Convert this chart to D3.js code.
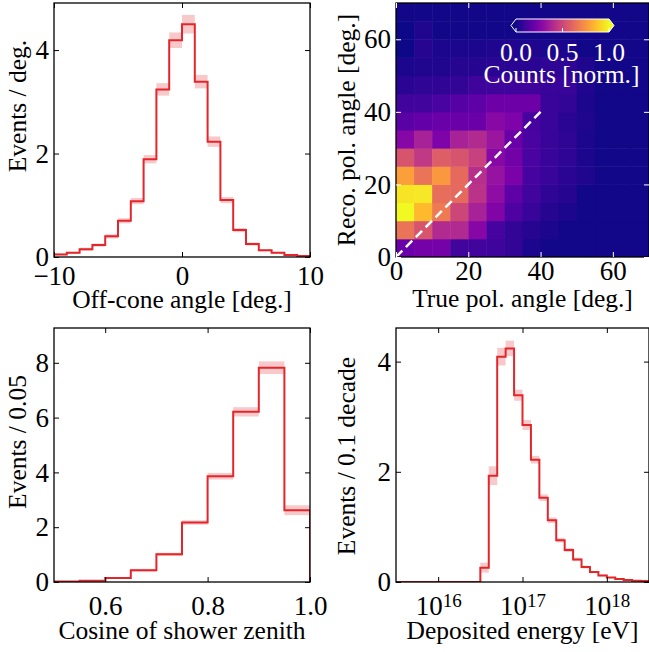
<!DOCTYPE html>
<html>
<head>
<meta charset="utf-8">
<script src="https://cdn.jsdelivr.net/npm/d3@7"></script>
<style>
body { margin: 0; background: #fff; }
text { font-family: "Liberation Serif", "Times New Roman", serif; }
</style>
</head>
<body>
<div id="chart"></div>
<script>
// ---- data ----
var offconeEdges = [-10, -9, -8, -7, -6, -5, -4, -3, -2, -1, 0, 1, 2, 3, 4, 5, 6, 7, 8, 9, 10];
var offconeValues = [0.05, 0.08, 0.15, 0.23, 0.40, 0.70, 1.08, 1.89, 3.24, 4.19, 4.50, 3.39, 2.23, 1.10, 0.52, 0.25, 0.13, 0.08, 0.04, 0.02];
var offconeErrors = [0.02, 0.02, 0.03, 0.03, 0.04, 0.05, 0.06, 0.08, 0.12, 0.15, 0.18, 0.13, 0.10, 0.06, 0.04, 0.03, 0.02, 0.02, 0.02, 0.01];
var offconeTicks = [-10, 0, 10];

var zenithEdges = [0.50, 0.55, 0.60, 0.65, 0.70, 0.75, 0.80, 0.85, 0.90, 0.95, 1.00];
var zenithValues = [0.02, 0.05, 0.15, 0.43, 1.01, 2.17, 3.86, 6.21, 7.82, 2.62];
var zenithErrors = [0.01, 0.02, 0.03, 0.05, 0.06, 0.08, 0.12, 0.17, 0.23, 0.18];
var zenithTicks = [0.6, 0.8, 1.0];

// log10 of bin edges in eV
var energyLogEdges = [15.5, 15.6, 15.7, 15.8, 15.9, 16.0, 16.1, 16.2, 16.3, 16.4, 16.5, 16.6, 16.7, 16.8, 16.9,
                      17.0, 17.1, 17.2, 17.3, 17.4, 17.5, 17.6, 17.7, 17.8, 17.9, 18.0, 18.1, 18.2, 18.3, 18.4, 18.5];
var energyValues = [0, 0, 0, 0, 0, 0, 0, 0, 0, 0,
                    0.26, 1.93, 4.09, 4.24, 3.39, 2.85, 2.22, 1.53, 1.12, 0.76,
                    0.58, 0.41, 0.27, 0.18, 0.12, 0.08, 0.055, 0.036, 0.024, 0.018];
var energyErrors = [0, 0, 0, 0, 0, 0, 0, 0, 0, 0,
                    0.09, 0.17, 0.16, 0.14, 0.10, 0.09, 0.07, 0.06, 0.05, 0.04,
                    0.035, 0.03, 0.025, 0.02, 0.015, 0.012, 0.01, 0.008, 0.006, 0.005];
var energyTicks = [16, 17, 18];

// polarisation angle 2D histogram, rows = reco bins (bottom to top), cols = true bins
var polEdges = [0, 5, 10, 15, 20, 25, 30, 35, 40, 45, 50, 55, 60, 65, 70];
var polCounts = [
    [0.20, 0.23, 0.23, 0.10, 0.10, 0.09, 0.07, 0.02, 0.01, 0.01, 0.01, 0.01, 0.01, 0.01],
    [0.65, 0.55, 0.40, 0.40, 0.27, 0.11, 0.07, 0.04, 0.02, 0.01, 0.01, 0.01, 0.01, 0.01],
    [1.00, 0.85, 0.67, 0.50, 0.37, 0.26, 0.13, 0.08, 0.04, 0.02, 0.01, 0.01, 0.01, 0.01],
    [0.95, 0.96, 0.63, 0.62, 0.43, 0.30, 0.17, 0.10, 0.06, 0.04, 0.01, 0.01, 0.01, 0.01],
    [0.78, 0.65, 0.76, 0.62, 0.42, 0.32, 0.24, 0.11, 0.08, 0.05, 0.03, 0.01, 0.01, 0.01],
    [0.55, 0.45, 0.58, 0.55, 0.48, 0.28, 0.22, 0.12, 0.08, 0.06, 0.02, 0.01, 0.01, 0.01],
    [0.27, 0.37, 0.25, 0.37, 0.40, 0.33, 0.20, 0.12, 0.08, 0.06, 0.02, 0.01, 0.01, 0.01],
    [0.16, 0.18, 0.20, 0.20, 0.20, 0.28, 0.25, 0.11, 0.08, 0.05, 0.03, 0.01, 0.01, 0.01],
    [0.10, 0.10, 0.12, 0.15, 0.17, 0.21, 0.21, 0.21, 0.08, 0.07, 0.02, 0.01, 0.01, 0.01],
    [0.05, 0.06, 0.06, 0.07, 0.09, 0.09, 0.09, 0.09, 0.08, 0.08, 0.03, 0.01, 0.01, 0.01],
    [0.02, 0.03, 0.03, 0.04, 0.04, 0.05, 0.05, 0.05, 0.06, 0.06, 0.03, 0.01, 0.01, 0.01],
    [0.00, 0.04, 0.02, 0.02, 0.02, 0.03, 0.03, 0.03, 0.02, 0.02, 0.01, 0.01, 0.01, 0.01],
    [0.00, 0.03, 0.01, 0.01, 0.01, 0.01, 0.01, 0.01, 0.01, 0.01, 0.01, 0.01, 0.01, 0.01],
    [0.01, 0.01, 0.01, 0.01, 0.01, 0.01, 0.01, 0.01, 0.01, 0.01, 0.01, 0.01, 0.01, 0.01]
];
var polTicks = [0, 20, 40, 60];
var colorbarTicks = [0.0, 0.5, 1.0];

// ---- styling ----
var RED = "#e3262c";
var BAND = "rgba(227, 38, 44, 0.25)";
var TICK_FONT = 27;
var LABEL_FONT = 25.5;

var svg = d3.select("#chart")
    .append("svg")
    .attr("width", 649)
    .attr("height", 652);

svg.append("rect").attr("width", 649).attr("height", 652).attr("fill", "#fff");

var defs = svg.append("defs");

function clipFor(id, x0, y0, w, h) {
    defs.append("clipPath").attr("id", id)
        .append("rect").attr("x", x0).attr("y", y0).attr("width", w).attr("height", h);
    return "url(#" + id + ")";
}

function styleAxis(sel, color) {
    sel.select(".domain").remove();
    sel.selectAll(".tick line").attr("stroke", color).attr("stroke-width", 1);
    sel.selectAll(".tick text")
        .attr("fill", "#000")
        .style("font-size", TICK_FONT + "px")
        .style("font-family", '"Liberation Serif", serif');
}

function minusFmt(d) {
    return d < 0 ? "\u2212" + Math.abs(d) : String(d);
}

// draw ticks on all four sides, labels on bottom and left
function drawAxes(g, box, x, y, opt) {
    var col = opt.tickColor || "#000";
    var bx = d3.axisBottom(x).tickValues(opt.xTicks).tickSize(-5).tickPadding(opt.xPad).tickFormat(opt.xFmt);
    var ax = g.append("g").attr("transform", "translate(0," + (box.y + box.h) + ")").call(bx);
    styleAxis(ax, col);
    var tx = d3.axisTop(x).tickValues(opt.xTicks).tickSize(-5).tickFormat("");
    styleAxis(g.append("g").attr("transform", "translate(0," + box.y + ")").call(tx), col);

    var ly = d3.axisLeft(y).tickValues(opt.yTicks).tickSize(-5).tickPadding(5).tickFormat(opt.yFmt);
    styleAxis(g.append("g").attr("transform", "translate(" + box.x + ",0)").call(ly), col);
    var ry = d3.axisRight(y).tickValues(opt.yTicks).tickSize(-5).tickFormat("");
    styleAxis(g.append("g").attr("transform", "translate(" + (box.x + box.w) + ",0)").call(ry), col);
    return ax;
}

function axisLabels(g, box, xLabel, yLabel, xBase, yCenter, yBase) {
    g.append("text")
        .attr("x", box.x + box.w / 2)
        .attr("y", xBase)
        .attr("text-anchor", "middle")
        .style("font-size", LABEL_FONT + "px")
        .text(xLabel);
    g.append("text")
        .attr("transform", "translate(" + yBase + "," + yCenter + ") rotate(-90)")
        .attr("text-anchor", "middle")
        .style("font-size", LABEL_FONT + "px")
        .text(yLabel);
}

function histPanel(id, box, edges, values, errors, x, y) {
    var g = svg.append("g");
    var clip = clipFor(id, box.x, box.y, box.w, box.h);
    var bins = values.map(function(v, i) {
        return { x0: edges[i], x1: edges[i + 1], v: v, e: errors[i] };
    });

    g.append("g").attr("clip-path", clip)
        .selectAll("rect")
        .data(bins.filter(function(b) { return b.e > 0; }))
        .enter().append("rect")
        .attr("x", function(b) { return x(b.x0); })
        .attr("width", function(b) { return x(b.x1) - x(b.x0); })
        .attr("y", function(b) { return y(b.v + b.e); })
        .attr("height", function(b) { return y(Math.max(b.v - b.e, 0)) - y(b.v + b.e); })
        .attr("fill", BAND);

    var pts = [[edges[0], 0]];
    bins.forEach(function(b) {
        pts.push([b.x0, b.v]);
        pts.push([b.x1, b.v]);
    });
    pts.push([edges[edges.length - 1], 0]);

    var line = d3.line()
        .x(function(d) { return x(d[0]); })
        .y(function(d) { return y(d[1]); });

    g.append("path")
        .attr("clip-path", clip)
        .attr("d", line(pts))
        .attr("fill", "none")
        .attr("stroke", RED)
        .attr("stroke-width", 2)
        .attr("stroke-linejoin", "miter");

    g.append("rect")
        .attr("x", box.x).attr("y", box.y).attr("width", box.w).attr("height", box.h)
        .attr("fill", "none").attr("stroke", "#000").attr("stroke-width", 1.3);
    return g;
}

// ---- top left: off-cone angle ----
var boxTL = { x: 54, y: 3, w: 256, h: 254 };
var xTL = d3.scaleLinear().domain([-10, 10]).range([boxTL.x, boxTL.x + boxTL.w]);
var yTL = d3.scaleLinear().domain([0, 4.91]).range([boxTL.y + boxTL.h, boxTL.y]);
var gTL = histPanel("clipTL", boxTL, offconeEdges, offconeValues, offconeErrors, xTL, yTL);
drawAxes(gTL, boxTL, xTL, yTL, { xTicks: offconeTicks, yTicks: [0, 2, 4], xPad: 9, xFmt: minusFmt, yFmt: String });
axisLabels(gTL, boxTL, "Off-cone angle [deg.]", "Events / deg.", 308, 106, 26);

// ---- bottom left: cosine of zenith ----
var boxBL = { x: 54, y: 328, w: 256, h: 254 };
var xBL = d3.scaleLinear().domain([0.5, 1.0]).range([boxBL.x, boxBL.x + boxBL.w]);
var yBL = d3.scaleLinear().domain([0, 9.27]).range([boxBL.y + boxBL.h, boxBL.y]);
var gBL = histPanel("clipBL", boxBL, zenithEdges, zenithValues, zenithErrors, xBL, yBL);
drawAxes(gBL, boxBL, xBL, yBL, { xTicks: zenithTicks, yTicks: [0, 2, 4, 6, 8], xPad: 14, xFmt: d3.format(".1f"), yFmt: String });
axisLabels(gBL, boxBL, "Cosine of shower zenith", "Events / 0.05", 639, 442, 26);

// ---- bottom right: deposited energy ----
var boxBR = { x: 396, y: 328, w: 253, h: 254 };
var energyEdges = energyLogEdges.map(function(l) { return Math.pow(10, l); });
var xBR = d3.scaleLog().domain([energyEdges[0], energyEdges[energyEdges.length - 1]]).range([boxBR.x, boxBR.x + boxBR.w]);
var yBR = d3.scaleLinear().domain([0, 4.61]).range([boxBR.y + boxBR.h, boxBR.y]);
var gBR = histPanel("clipBR", boxBR, energyEdges, energyValues, energyErrors, xBR, yBR);
var axBR = drawAxes(gBR, boxBR, xBR, yBR, {
    xTicks: energyTicks.map(function(p) { return Math.pow(10, p); }),
    yTicks: [0, 2, 4], xPad: 14, xFmt: function() { return ""; }, yFmt: String
});
axBR.selectAll(".tick text").each(function(d) {
    var t = d3.select(this);
    t.append("tspan").text("10");
    t.append("tspan").attr("dy", "-0.45em").style("font-size", "19px").text(Math.round(Math.log10(d)));
});
axisLabels(gBR, boxBR, "Deposited energy [eV]", "Events / 0.1 decade", 639, 456, 355);

// ---- top right: polarisation angle heatmap ----
var boxTR = { x: 396, y: 3, w: 253, h: 254 };
var xTR = d3.scaleLinear().domain([0, 70]).range([boxTR.x, boxTR.x + boxTR.w]);
var yTR = d3.scaleLinear().domain([0, 70]).range([boxTR.y + boxTR.h, boxTR.y]);
var color = d3.scaleSequential(d3.interpolatePlasma).domain([0, 1]);

var cells = [];
polCounts.forEach(function(row, j) {
    row.forEach(function(v, i) {
        cells.push({ x0: polEdges[i], x1: polEdges[i + 1], y0: polEdges[j], y1: polEdges[j + 1], v: v });
    });
});

var gTR = svg.append("g");
var clipTR = clipFor("clipTR", boxTR.x, boxTR.y, boxTR.w, boxTR.h);
gTR.append("g").attr("clip-path", clipTR)
    .selectAll("rect")
    .data(cells)
    .enter().append("rect")
    .attr("x", function(d) { return xTR(d.x0); })
    .attr("y", function(d) { return yTR(d.y1); })
    .attr("width", function(d) { return xTR(d.x1) - xTR(d.x0) + 0.5; })
    .attr("height", function(d) { return yTR(d.y0) - yTR(d.y1) + 0.5; })
    .attr("fill", function(d) { return color(d.v); });

// diagonal reference line
gTR.append("path")
    .attr("d", d3.line()([[xTR(0), yTR(0)], [xTR(40), yTR(40)]]))
    .attr("stroke", "#fff")
    .attr("stroke-width", 2.5)
    .attr("stroke-dasharray", "9,5")
    .attr("fill", "none");

gTR.append("rect")
    .attr("x", boxTR.x).attr("y", boxTR.y).attr("width", boxTR.w).attr("height", boxTR.h)
    .attr("fill", "none").attr("stroke", "#000").attr("stroke-width", 1.3);

drawAxes(gTR, boxTR, xTR, yTR, { xTicks: polTicks, yTicks: polTicks, xPad: 4, xFmt: String, yFmt: String, tickColor: "#fff" });
axisLabels(gTR, boxTR, "True pol. angle [deg.]", "Reco. pol. angle [deg.]", 307, 130, 355);

// colorbar inset
var cb = d3.scaleLinear().domain([0, 1]).range([516, 609]);
var cbTop = 19, cbBot = 32, tip = 5;
var grad = defs.append("linearGradient").attr("id", "plasmaGrad");
d3.range(0, 1.0001, 0.1).forEach(function(t) {
    grad.append("stop").attr("offset", t).attr("stop-color", color(t));
});
gTR.append("rect")
    .attr("x", cb(0)).attr("y", cbTop).attr("width", cb(1) - cb(0)).attr("height", cbBot - cbTop)
    .attr("fill", "url(#plasmaGrad)");
gTR.append("path")
    .attr("d", d3.line()([[cb(0), cbTop], [cb(0) - tip, (cbTop + cbBot) / 2], [cb(0), cbBot]]))
    .attr("fill", color(0));
gTR.append("path")
    .attr("d", d3.line()([[cb(1), cbTop], [cb(1) + tip, (cbTop + cbBot) / 2], [cb(1), cbBot]]))
    .attr("fill", color(1));
gTR.append("path")
    .attr("d", d3.line()([[cb(0), cbTop], [cb(1), cbTop], [cb(1) + tip, (cbTop + cbBot) / 2], [cb(1), cbBot],
                         [cb(0), cbBot], [cb(0) - tip, (cbTop + cbBot) / 2]]) + "Z")
    .attr("fill", "none").attr("stroke", "#fff").attr("stroke-width", 1);
gTR.selectAll(".cbtick")
    .data(colorbarTicks)
    .enter().append("line")
    .attr("x1", function(d) { return cb(d); }).attr("x2", function(d) { return cb(d); })
    .attr("y1", cbBot).attr("y2", cbBot - 4)
    .attr("stroke", "#fff").attr("stroke-width", 1);
gTR.selectAll(".cblabel")
    .data(colorbarTicks)
    .enter().append("text")
    .attr("x", function(d) { return cb(d); })
    .attr("y", 61)
    .attr("text-anchor", "middle")
    .attr("fill", "#fff")
    .style("font-size", LABEL_FONT + "px")
    .text(d3.format(".1f"));
gTR.append("text")
    .attr("x", 561.5).attr("y", 83)
    .attr("text-anchor", "middle")
    .attr("fill", "#fff")
    .style("font-size", LABEL_FONT + "px")
    .text("Counts [norm.]");
</script>
</body>
</html>
